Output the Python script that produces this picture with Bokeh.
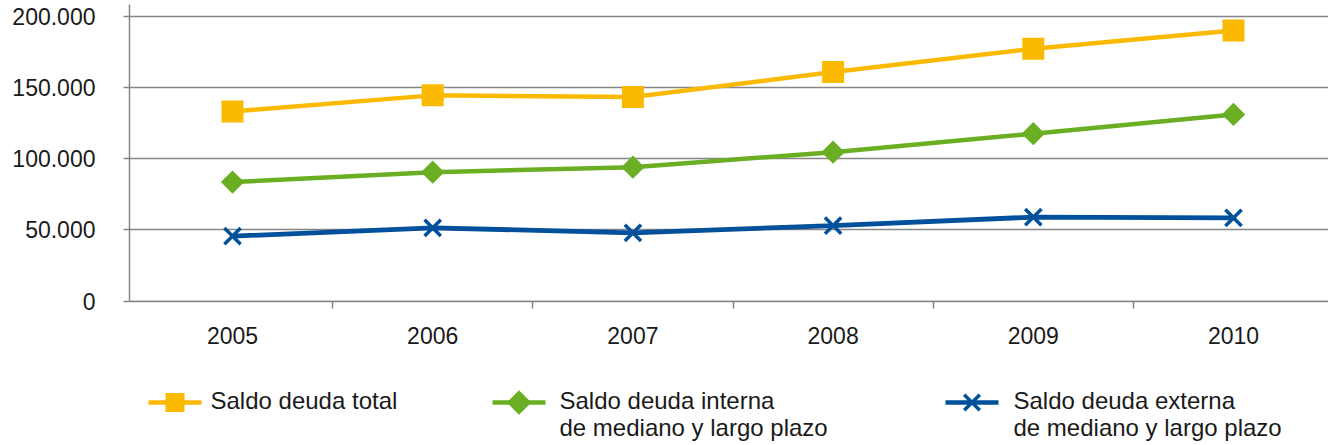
from bokeh.plotting import figure
from bokeh.models import Range1d, FixedTicker
from bokeh.layouts import column
from bokeh.embed import file_html
from bokeh.resources import INLINE
from bokeh.core.properties import value
import numpy as np

# ---- data ----
years = ["2005", "2006", "2007", "2008", "2009", "2010"]
saldo_total = [133100, 144400, 143200, 160800, 177200, 190000]
saldo_interna = [83500, 90500, 94000, 104500, 117500, 131000]
saldo_externa = [45500, 51400, 47900, 53000, 58900, 58400]
y_ticks = [0, 50000, 100000, 150000, 200000]
y_tick_labels = ["0", "50.000", "100.000", "150.000", "200.000"]
series_labels = [
    "Saldo deuda total",
    "Saldo deuda interna\nde mediano y largo plazo",
    "Saldo deuda externa\nde mediano y largo plazo",
]

# ---- styles ----
YELLOW = "#FBBA00"
GREEN = "#6AAF23"
BLUE = "#00509B"
GRID = "#868686"
TEXT = "#1a1a1a"
FONT = "Liberation Sans"
FS = "23px"
LW = 4.5

idx = list(range(len(years)))
boundaries = [i + 0.5 for i in idx[:-1]]

p = figure(width=1328, height=358,
           x_range=Range1d(-0.5145, 5.4745), y_range=Range1d(-351, 208216),
           output_backend="svg", toolbar_location=None,
           min_border_left=129, min_border_right=0, min_border_top=4, min_border_bottom=57)
p.outline_line_color = None
p.background_fill_color = "white"
p.border_fill_color = "white"

p.xgrid.visible = False
p.ygrid.ticker = FixedTicker(ticks=y_ticks)
p.ygrid.grid_line_color = GRID
p.ygrid.grid_line_width = 1.5

xa = p.xaxis[0]
xa.ticker = FixedTicker(ticks=idx, minor_ticks=boundaries)
xa.major_label_overrides = {i: y for i, y in zip(idx, years)}
xa.axis_line_color = GRID
xa.axis_line_width = 1.5
xa.major_tick_line_color = None
xa.major_tick_out = 0
xa.major_tick_in = 0
xa.minor_tick_line_color = GRID
xa.minor_tick_line_width = 1.5
xa.minor_tick_out = 7
xa.minor_tick_in = 0
xa.major_label_standoff = 18
xa.major_label_text_font = FONT
xa.major_label_text_font_size = FS
xa.major_label_text_color = TEXT

ya = p.yaxis[0]
ya.ticker = FixedTicker(ticks=y_ticks)
ya.major_label_overrides = {t: l for t, l in zip(y_ticks, y_tick_labels)}
ya.axis_line_color = GRID
ya.axis_line_width = 1.5
ya.major_tick_line_color = GRID
ya.major_tick_line_width = 1.5
ya.major_tick_out = 6
ya.major_tick_in = 0
ya.minor_tick_line_color = None
ya.major_label_standoff = 28
ya.major_label_text_font = FONT
ya.major_label_text_font_size = FS
ya.major_label_text_color = TEXT

# series
p.line(idx, saldo_total, line_color=YELLOW, line_width=LW)
p.scatter(idx, saldo_total, marker="square", size=22, fill_color=YELLOW, line_color=YELLOW, line_width=0)

p.line(idx, saldo_interna, line_color=GREEN, line_width=LW)
p.scatter(idx, saldo_interna, marker="square", size=16.5, angle=np.pi / 4,
          fill_color=GREEN, line_color=GREEN, line_width=0)

p.line(idx, saldo_externa, line_color=BLUE, line_width=4.8)
p.scatter(idx, saldo_externa, marker="x", size=23, line_color=BLUE, line_width=3.5)

# ---- legend strip (frame aligned with the chart frame, page pixel coordinates) ----
lg = figure(width=1328, height=87, x_range=Range1d(129, 1328), y_range=Range1d(445, 358),
            output_backend="svg", toolbar_location=None,
            x_axis_location=None, y_axis_location=None,
            min_border_left=129, min_border_right=0, min_border_top=0, min_border_bottom=0)
lg.outline_line_color = None
lg.grid.visible = False

key_x0 = [148, 492, 945]
text_x = [210, 559, 1013]
key_len = 53
key_y = 402
colors = [YELLOW, GREEN, BLUE]

for k in range(3):
    lg.line([key_x0[k], key_x0[k] + key_len], [key_y, key_y], line_color=colors[k], line_width=LW)
cx = [x + key_len / 2 for x in key_x0]
lg.scatter([cx[0]], [key_y], marker="square", size=19, fill_color=YELLOW, line_color=YELLOW, line_width=0)
lg.scatter([cx[1]], [key_y], marker="square", size=17.5, angle=np.pi / 4, fill_color=GREEN, line_color=GREEN, line_width=0)
lg.scatter([cx[2]], [key_y], marker="x", size=22, line_color=BLUE, line_width=3.5)

tx, ty, tt = [], [], []
for k, lab in enumerate(series_labels):
    for j, line in enumerate(lab.split("\n")):
        tx.append(text_x[k])
        ty.append(400 + 26.5 * j)
        tt.append(line)
lg.text(tx, ty, text=tt, text_font=value(FONT), text_font_size="24px", text_color=TEXT,
        text_baseline="alphabetic", text_align="left")

layout = column(p, lg, spacing=0)
open("out.html", "w").write(file_html(layout, INLINE))
